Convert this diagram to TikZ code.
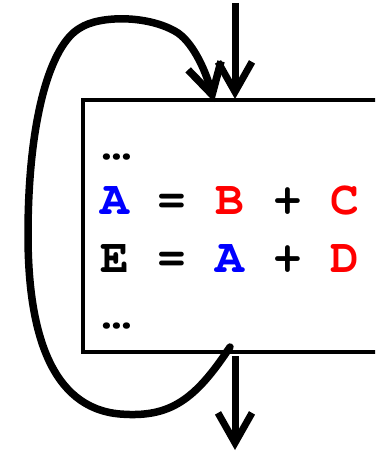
\documentclass[tikz,border=0pt]{standalone}
\usepackage[T1]{fontenc}
\usetikzlibrary{arrows.meta}
\definecolor{vblue}{RGB}{0,0,255}
\definecolor{vred}{RGB}{255,0,0}
\newcommand{\tightdots}{.\kern-18.8pt.\kern-18.8pt.}
\tikzset{
  flow/.style={line width=7pt,-{Straight Barb[length=30pt,width=34pt,line width=7pt]}},
  loopline/.style={line width=7.5pt,line cap=round,-{Straight Barb[length=30pt,width=34pt,line width=7.5pt]}},
  code/.style={inner sep=0pt,anchor=base west,font=\fontencoding{T1}\fontfamily{pcr}\fontseries{b}\fontsize{48pt}{48pt}\selectfont}
}
\begin{document}
\begin{tikzpicture}[x=1pt,y=-1pt]
\useasboundingbox (0,0) rectangle (375,452);
\clip (0,0) rectangle (375,452);
% block
\draw[line width=3.5pt] (390,100) -- (83,100) -- (83,352) -- (390,352);
\node[code] (dots1) at (92.3,159) {\tightdots};
\node[code] (l1) at (100,214) {\textcolor{vblue}{A} = \textcolor{vred}{B} + \textcolor{vred}{C}};
\node[code] (l2) at (100,272) {E = \textcolor{vblue}{A} + \textcolor{vred}{D}};
\node[code] (dots2) at (92.3,328) {\tightdots};
% coordinates
\coordinate (in) at (235,3);
\coordinate (intop) at (235,99);
\coordinate (outstart) at (235,356);
\coordinate (out) at (235,450);
\coordinate (loopstart) at (230,347);
\coordinate (loopend) at (214,102);
\draw[flow] (in) -- (intop);
\draw[flow] (outstart) -- (out);
\draw[loopline] (loopstart) .. controls (195,400) and (170,418) .. (120,414)
  .. controls (50,408) and (28,330) .. (28,235)
  .. controls (28,120) and (50,45) .. (80,28)
  .. controls (100,15) and (150,15) .. (178,33)
  .. controls (195,45) and (207,75) .. (loopend);
\end{tikzpicture}
\end{document}
